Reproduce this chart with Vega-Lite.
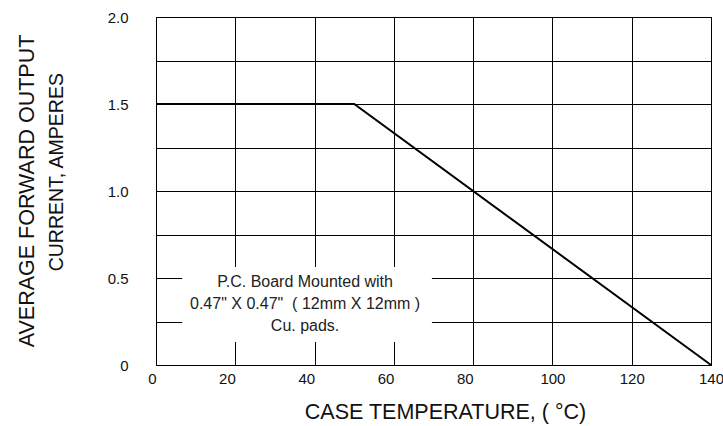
{
  "$schema": "https://vega.github.io/schema/vega-lite/v6.json",
  "width": 555,
  "height": 348,
  "autosize": "none",
  "padding": {"left": 156, "top": 17, "right": 12, "bottom": 61},
  "background": "white",
  "config": {
    "view": {"stroke": "black", "strokeWidth": 1},
    "font": "Liberation Sans",
    "axis": {
      "domain": false,
      "ticks": false,
      "grid": true,
      "gridColor": "black",
      "gridOpacity": 1,
      "gridWidth": 1,
      "labelFont": "Liberation Sans",
      "labelFontSize": 15,
      "labelColor": "#111",
      "titleFont": "Liberation Sans",
      "titleFontSize": 21.5,
      "titleFontWeight": "normal",
      "titleColor": "#111"
    }
  },
  "resolve": {"axis": {"y": "independent"}},
  "datasets": {
    "curve": [
      {"temp": 0, "current": 1.5},
      {"temp": 50, "current": 1.5},
      {"temp": 140, "current": 0}
    ],
    "note": [
      {"x0": 6.6, "x1": 69.6, "y0": 0.132, "y1": 0.563, "xc": 37.6, "yc": 0.477,
       "text": "P.C. Board Mounted with\n0.47\" X 0.47\"\u00a0\u00a0( 12mm X 12mm )\nCu. pads."}
    ]
  },
  "layer": [
    {
      "data": {"name": "curve"},
      "mark": {"type": "line", "color": "black", "strokeWidth": 2},
      "encoding": {
        "x": {
          "field": "temp", "type": "quantitative",
          "scale": {"domain": [0, 140], "nice": false},
          "axis": {
            "values": [0, 20, 40, 60, 80, 100, 120, 140],
            "labelPadding": 6,
            "labelAlign": {"condition": {"test": "datum.value >= 100", "value": "center"}, "value": "right"},
            "title": "CASE TEMPERATURE, ( °C)",
            "titleX": 289,
            "titleY": 53,
            "titleAlign": "center",
            "titleBaseline": "alphabetic"
          }
        },
        "y": {
          "field": "current", "type": "quantitative",
          "scale": {"domain": [0, 2], "nice": false},
          "axis": {
            "orient": "left",
            "values": [0, 0.25, 0.5, 0.75, 1, 1.25, 1.5, 1.75, 2],
            "labelExpr": "datum.value == 0 ? '0' : (datum.value % 0.5 == 0 ? format(datum.value, '.1f') : '')",
            "labelPadding": 28,
            "title": "AVERAGE FORWARD OUTPUT",
            "titleAngle": -90,
            "titleX": -123,
            "titleY": 173.5,
            "titleAlign": "center",
            "titleBaseline": "alphabetic"
          }
        }
      }
    },
    {
      "data": {"name": "note"},
      "mark": {"type": "rect", "fill": "white"},
      "encoding": {
        "x": {"field": "x0", "type": "quantitative"},
        "x2": {"field": "x1"},
        "y": {
          "field": "y0", "type": "quantitative",
          "axis": {
            "orient": "left",
            "labels": false,
            "grid": false,
            "title": "CURRENT, AMPERES",
            "titleFontSize": 19.5,
            "titleAngle": -90,
            "titleX": -94,
            "titleY": 154.7,
            "titleAlign": "center",
            "titleBaseline": "alphabetic"
          }
        },
        "y2": {"field": "y1"}
      }
    },
    {
      "data": {"name": "note"},
      "mark": {"type": "text", "lineBreak": "\n", "fontSize": 16, "lineHeight": 22, "align": "center", "baseline": "middle", "color": "#222", "font": "Liberation Sans"},
      "encoding": {
        "x": {"field": "xc", "type": "quantitative"},
        "y": {"field": "yc", "type": "quantitative", "axis": null},
        "text": {"field": "text"}
      }
    }
  ]
}
